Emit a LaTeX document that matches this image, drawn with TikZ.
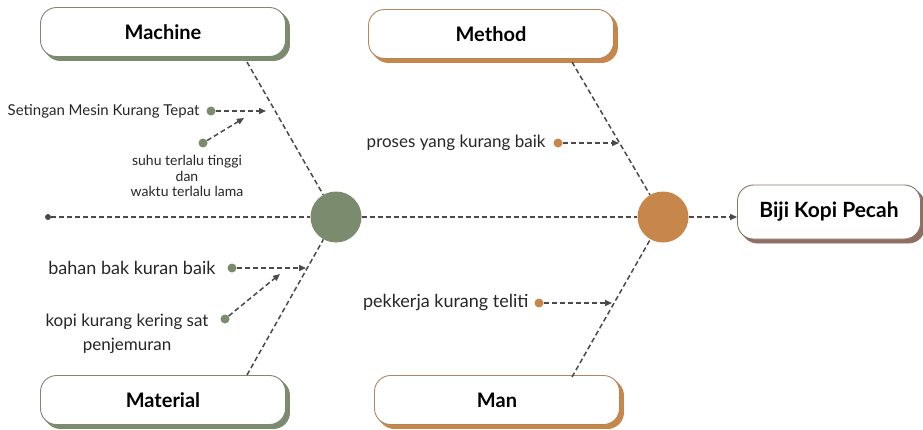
\documentclass[tikz,border=0pt]{standalone}
\usepackage{fontspec}
\setmainfont{Lato}
\usetikzlibrary{arrows.meta,shadows}
\definecolor{mgreen}{HTML}{7B8B6E}
\definecolor{morange}{HTML}{C8874A}
\definecolor{mbrown}{HTML}{8F6F62}
\definecolor{dline}{HTML}{4A4A4A}
\tikzset{
  catbox/.style={draw=#1!70!gray, line width=0.9pt, fill=white, rounded corners=16pt,
     minimum width=245pt, minimum height=49pt, font=\bfseries\fontsize{20}{22}\selectfont,
     double copy shadow={shadow xshift=2pt, shadow yshift=-2pt, draw=#1, fill=#1}},
  causetext/.style={font=\fontsize{#1}{#1}\selectfont, text=black!85, align=center},
  cdot/.style={circle, fill=#1, inner sep=0pt, minimum size=9pt},
  dashline/.style={dline, line width=1.5pt, dash pattern=on 5pt off 3pt},
  darr/.style={dashline, -{Triangle[length=7pt,width=6pt]}},
  hub/.style={circle, fill=#1, inner sep=0pt, minimum size=51pt},
}
\begin{document}
\begin{tikzpicture}[x=1pt,y=-1pt]
\useasboundingbox (0,0) rectangle (923,429);
% boxes
\node[catbox=mgreen] (machine) at (163,32) {Machine};
\node[catbox=mgreen] (material) at (163,400) {Material};
\node[catbox=morange] (method) at (491,34) {Method};
\node[catbox=morange] (man) at (497,400) {Man};
\node[catbox=mbrown, minimum width=183pt, minimum height=54pt, font=\bfseries\fontsize{21}{23}\selectfont] (effect) at (829,212) {Biji Kopi Pecah};
% hubs
\node[hub=mgreen] (g) at (336,217) {};
\node[hub=morange] (o) at (663,217) {};
% spine
\node[cdot=dline, minimum size=6pt] (tail) at (48,217) {};
\draw[dashline] (tail) -- (g);
\draw[dashline] (g) -- (o);
\draw[darr] (o) -- (o -| effect.west);
% bones
\coordinate (mcs) at (247,62);
\coordinate (mts) at (247,375);
\coordinate (mes) at (572,62);
\coordinate (mas) at (572,377);
\draw[dashline] (mcs) -- (g);
\draw[dashline] (mts) -- (g);
\draw[dashline] (mes) -- (o);
\draw[dashline] (mas) -- (o);
% machine causes
\node[causetext=15, anchor=east] (t1) at (203,111) {Setingan Mesin Kurang Tepat};
\node[cdot=mgreen] (d1) at (211,111) {};
\coordinate (a1) at (266,111);
\draw[darr] (d1) -- (a1);
\node[cdot=mgreen] (d2) at (203,143) {};
\coordinate (a2) at (244,118);
\draw[darr] (d2) -- (a2);
\node[causetext=14, anchor=north, font=\fontsize{14}{15.5}\selectfont] (t2) at (187,152) {suhu terlalu tinggi\\dan\\waktu terlalu lama};
% material causes
\node[causetext=18, anchor=east] (t3) at (219,268) {bahan bak kuran baik};
\node[cdot=mgreen] (d3) at (232,268) {};
\coordinate (a3) at (306,268);
\draw[darr] (d3) -- (a3);
\node[cdot=mgreen] (d4) at (225,319) {};
\coordinate (a4) at (280,274);
\draw[darr] (d4) -- (a4);
\node[causetext=17, anchor=north, font=\fontsize{17}{24}\selectfont] (t4) at (127,310) {kopi kurang kering sat\\penjemuran};
% method cause
\node[causetext=17, anchor=east] (t5) at (549,143) {proses yang kurang baik};
\node[cdot=morange] (d5) at (558,143) {};
\coordinate (a5) at (619,143);
\draw[darr] (d5) -- (a5);
% man cause
\node[causetext=18, anchor=east] (t6) at (532,303) {pekkerja kurang teliti};
\node[cdot=morange] (d6) at (539,303) {};
\coordinate (a6) at (612,303);
\draw[darr] (d6) -- (a6);
\end{tikzpicture}
\end{document}
